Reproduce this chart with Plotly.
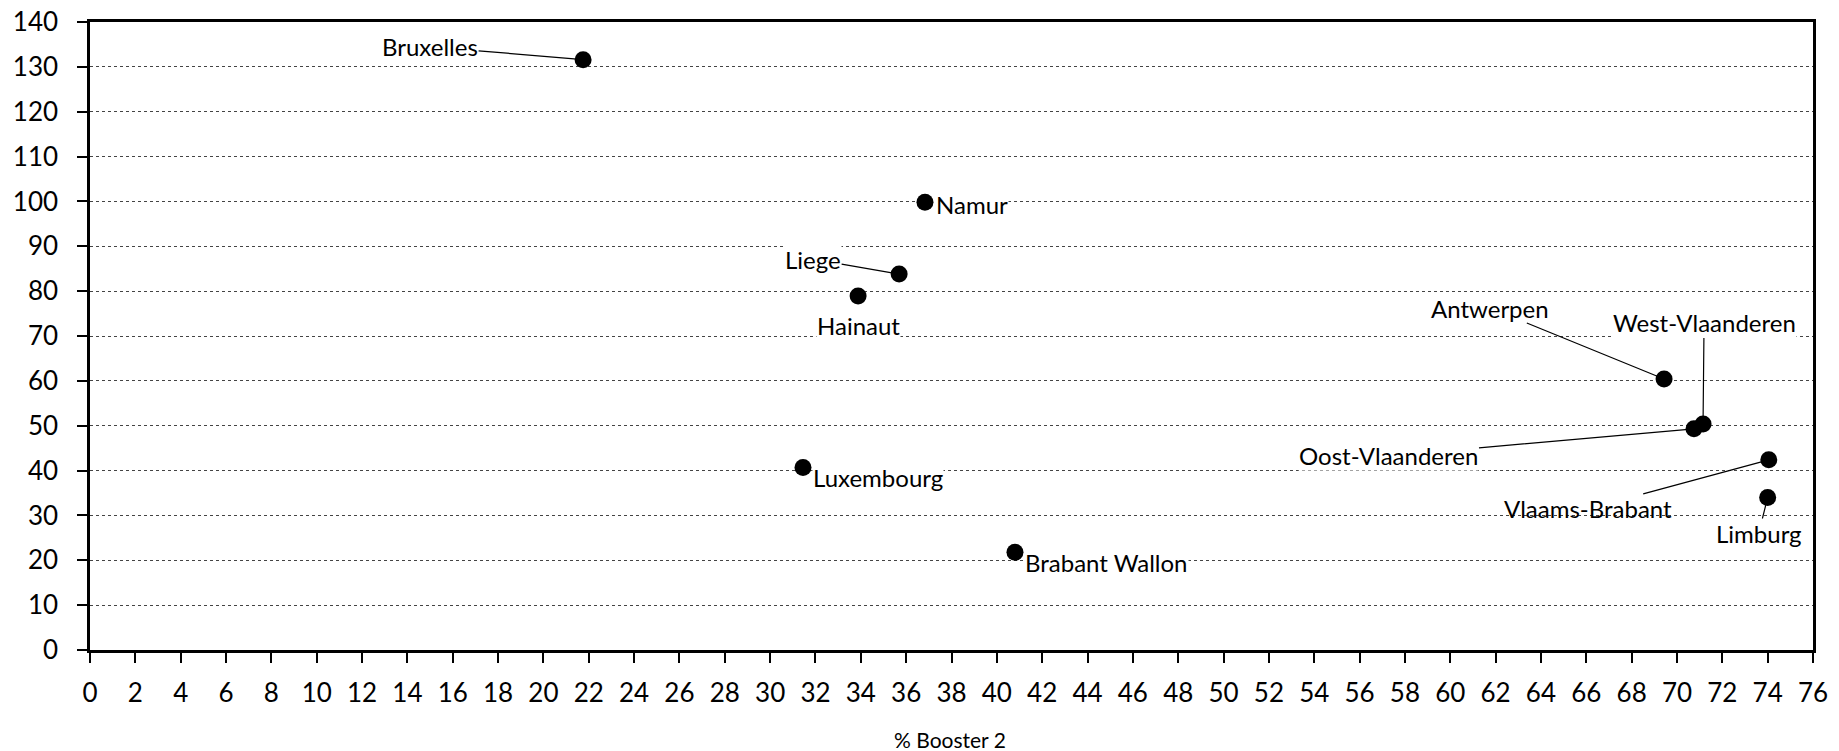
import plotly.graph_objects as go

provinces = ["Bruxelles", "Namur", "Liege", "Hainaut", "Luxembourg", "Brabant Wallon",
             "Antwerpen", "Oost-Vlaanderen", "West-Vlaanderen", "Vlaams-Brabant", "Limburg"]
booster2 = [21.75, 36.83, 35.69, 33.88, 31.45, 40.8, 69.43, 70.75, 71.15, 74.05, 74.0]
values = [131.6, 99.8, 83.8, 78.9, 40.7, 21.8, 60.4, 49.3, 50.4, 42.4, 34.0]

x_ticks = list(range(0, 77, 2))
y_ticks = list(range(0, 141, 10))
x_title = "% Booster 2"

# label placement: (leader line, dx, dy (screen px, +down), xanchor, white background)
label_pos = {
    "Bruxelles": (True, -153, -13, "center", True),
    "Namur": (False, 10, 2, "left", True),
    "Liege": (True, -86, -15, "center", True),
    "Hainaut": (False, 0, 29, "center", True),
    "Luxembourg": (False, 9, 10, "left", True),
    "Brabant Wallon": (False, 9, 10, "left", True),
    "Antwerpen": (True, -174, -71, "center", True),
    "Oost-Vlaanderen": (True, -305, 27, "center", True),
    "West-Vlaanderen": (True, 1, -101, "center", True),
    "Vlaams-Brabant": (True, -181, 49, "center", False),
    "Limburg": (True, -9, 36, "center", True),
}

FONT = "Lato"
LABEL_SIZE = 24

fig = go.Figure()
fig.add_trace(go.Scatter(
    x=booster2, y=values, mode="markers",
    marker=dict(color="black", size=17),
    hoverinfo="text", text=provinces, showlegend=False,
))

annotations = []
for name, xv, yv in zip(provinces, booster2, values):
    line, dx, dy, anchor, bg = label_pos[name]
    common = dict(
        x=xv, y=yv, xref="x", yref="y", text=name,
        font=dict(family=FONT, size=LABEL_SIZE, color="black"),
        bgcolor="white" if bg else "rgba(0,0,0,0)", borderpad=0,
    )
    if line:
        annotations.append(dict(
            **common, showarrow=True, arrowhead=0, arrowwidth=1.2,
            arrowcolor="black", ax=dx, ay=dy, standoff=0,
        ))
    else:
        annotations.append(dict(
            **common, showarrow=False, xanchor=anchor, yanchor="middle",
            xshift=dx, yshift=-dy,
        ))

annotations.append(dict(
    x=(950 - 90) / 1723, y=-(739 - 650) / 628, xref="paper", yref="paper", text=x_title,
    showarrow=False, xanchor="center", yanchor="middle",
    font=dict(family=FONT, size=21, color="black"),
))

fig.update_layout(
    width=1839, height=751,
    margin=dict(l=90, r=26, t=22, b=101, autoexpand=False),
    paper_bgcolor="white", plot_bgcolor="white",
    annotations=annotations,
    font=dict(family=FONT, color="black"),
    xaxis=dict(
        range=[0, 76], tickvals=x_ticks, ticktext=[str(t) for t in x_ticks],
        automargin=False,
        showgrid=False, zeroline=False,
        showline=True, linecolor="black", linewidth=2.5, mirror=True,
        ticks="outside", ticklen=10, tickwidth=2, tickcolor="black",
        ticklabelstandoff=8,
        tickfont=dict(family=FONT, size=26, color="black"),
    ),
    yaxis=dict(
        range=[0, 140], tickvals=y_ticks, ticktext=[str(t) for t in y_ticks],
        automargin=False,
        showgrid=True, gridcolor="#444444", gridwidth=1, griddash="dot",
        zeroline=False,
        showline=True, linecolor="black", linewidth=2.5, mirror=True,
        ticks="outside", ticklen=10, tickwidth=2, tickcolor="black",
        ticklabelstandoff=14,
        tickfont=dict(family=FONT, size=26, color="black"),
    ),
)

fig.write_html(
    "out.html",
    config={"displayModeBar": False},
    post_script="document.body.style.margin='0px';document.body.style.overflow='hidden';",
)
